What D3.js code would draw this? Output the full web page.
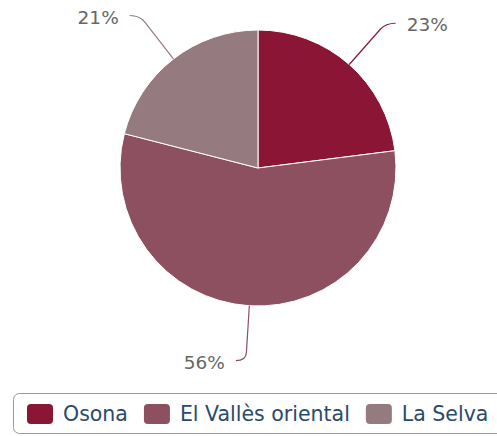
<!DOCTYPE html>
<html><head><meta charset="utf-8">
<script src="https://cdn.jsdelivr.net/npm/d3@7"></script>
<style>body{margin:0;background:#fff}svg{display:block}</style>
</head><body>
<script>
const categories = ["Osona", "El Vallès oriental", "La Selva"];
const values = [23, 56, 21];
const labels = ["23%", "56%", "21%"];
const colors = ["#8b1535", "#8c5060", "#957b80"];

const W = 497, H = 436;
const svg = d3.select("body").append("svg").attr("width", W).attr("height", H);
const cx = 258, cy = 168, R = 138;

const pie = d3.pie().sort(null).value(d => d)(values);
const arc = d3.arc().innerRadius(0).outerRadius(R);
const color = d3.scaleOrdinal().domain(categories).range(colors);

const g = svg.append("g").attr("transform", `translate(${cx},${cy})`);
g.selectAll("path.slice").data(pie).join("path")
  .attr("class", "slice")
  .attr("d", arc)
  .attr("fill", (d, i) => color(categories[i]))
  .attr("stroke", "#fff").attr("stroke-width", 1).attr("stroke-linejoin", "round");

// connectors and labels
pie.forEach((d, i) => {
  const a = (d.startAngle + d.endAngle) / 2;
  const dx = Math.sin(a), dy = -Math.cos(a);
  const p0 = [dx * R, dy * R];
  const rb = R + 55;
  const p1 = [dx * rb, dy * rb];
  const side = dx >= 0 ? 1 : -1;
  const pb = [dx * (rb - 8), dy * (rb - 8)];
  const pe = [p1[0] + side * 10, p1[1]];
  g.append("path")
    .attr("d", `M${p0}L${pb}Q${p1} ${pe}`)
    .attr("fill", "none")
    .attr("stroke", color(categories[i]))
    .attr("stroke-width", 1.2);
  g.append("text")
    .attr("x", pe[0] + side * 11)
    .attr("y", pe[1] + 3)
    .attr("text-anchor", side > 0 ? "start" : "end")
    .attr("dominant-baseline", "middle")
    .attr("font-family", "DejaVu Sans")
    .attr("font-size", 18.5)
    .attr("fill", "#666")
    .text(labels[i]);
});

// legend
const lg = svg.append("g");
lg.append("rect").attr("x", 13.5).attr("y", 393.5).attr("width", 500).attr("height", 40)
  .attr("rx", 6).attr("fill", "#fff").attr("stroke", "#999").attr("stroke-width", 1);
let x = 27;
categories.forEach((c, i) => {
  lg.append("rect").attr("x", x).attr("y", 404).attr("width", 26).attr("height", 20)
    .attr("rx", 4).attr("fill", color(c));
  const t = lg.append("text").attr("x", x + 36).attr("y", 414)
    .attr("dominant-baseline", "central")
    .attr("font-family", "DejaVu Sans").attr("font-size", 20.5)
    .attr("fill", "#2b4a6a").text(c);
  const w = t.node().getComputedTextLength();
  x = x + 36 + w + 16;
});
</script>
</body></html>
